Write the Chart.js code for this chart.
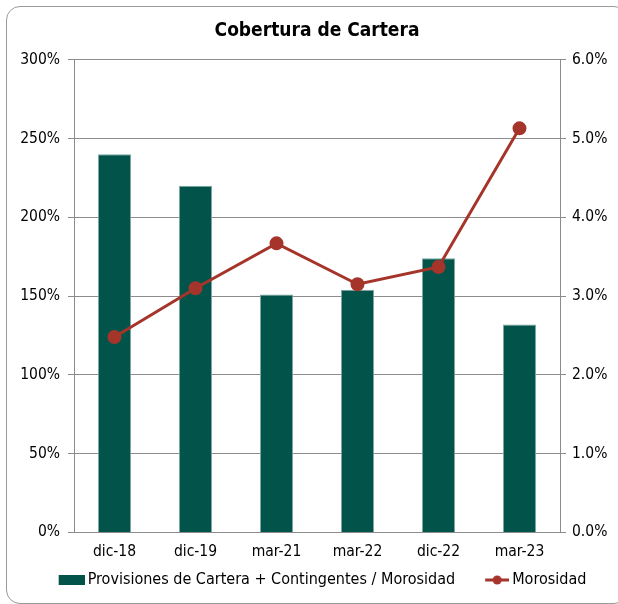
<!DOCTYPE html>
<html>
<head>
<meta charset="utf-8">
<script src="https://cdn.jsdelivr.net/npm/chart.js@4.4.0/dist/chart.umd.min.js"></script>
<style>
  body { margin: 0; background: #fff; }
  #frame {
    position: absolute; left: 6px; top: 6px; width: 620px; height: 596px;
    border: 1px solid #9a9a9a; border-radius: 14px;
  }
  #wrap { position: absolute; left: 0; top: 0; width: 618px; height: 604px; }
</style>
</head>
<body>
<div id="frame"></div>
<div id="wrap"><canvas id="coberturaChart"></canvas></div>
<script>
const labels = ["dic-18", "dic-19", "mar-21", "mar-22", "dic-22", "mar-23"];
const cobertura = [240, 220, 151, 154, 174, 132];
const morosidad = [2.48, 3.10, 3.67, 3.15, 3.37, 5.13];
const leftTicks = [0, 50, 100, 150, 200, 250, 300];
const rightTicks = [0, 1, 2, 3, 4, 5, 6];

const barColor = "#02544b";
const lineColor = "#a5352b";
const gridColor = "#8c8c8c";
const fontName = "'DejaVu Sans Condensed', 'DejaVu Sans', sans-serif";

// legend swatches: the image is centred in the legend box, so the visible
// part sits on the right half and the left half is left empty (gives spacing)
const swatchW = 58;

function barSwatch() {
    let c = document.createElement("canvas");
    c.width = swatchW; c.height = 10;
    let g = c.getContext("2d");
    g.fillStyle = barColor;
    g.fillRect(32, 0, 26, 10);
    return c;
}

function lineSwatch() {
    let c = document.createElement("canvas");
    c.width = swatchW; c.height = 12;
    let g = c.getContext("2d");
    g.strokeStyle = lineColor;
    g.lineWidth = 3;
    g.beginPath();
    g.moveTo(34, 6); g.lineTo(58, 6);
    g.stroke();
    g.fillStyle = lineColor;
    g.beginPath();
    g.arc(46, 6, 4.5, 0, Math.PI * 2);
    g.fill();
    return c;
}

const swatches = [barSwatch(), lineSwatch()];

let ctx = document.getElementById("coberturaChart").getContext("2d");

let chart = new Chart(ctx, {
    data: {
        labels: labels,
        datasets: [
            {
                type: "line",
                label: "Morosidad",
                data: morosidad,
                yAxisID: "y1",
                borderColor: lineColor,
                backgroundColor: lineColor,
                borderWidth: 3,
                pointRadius: 5.5,
                pointHoverRadius: 5.5,
                tension: 0,
                order: 1
            },
            {
                type: "bar",
                label: "Provisiones de Cartera + Contingentes / Morosidad",
                data: cobertura,
                yAxisID: "y",
                backgroundColor: barColor,
                borderColor: "#7fa9a4",
                borderWidth: 1,
                barPercentage: 0.41,
                categoryPercentage: 1,
                order: 2
            }
        ]
    },
    options: {
        responsive: true,
        maintainAspectRatio: false,
        animation: false,
        layout: { padding: { left: 0, right: 0, top: 10, bottom: 6 } },
        plugins: {
            title: {
                display: true,
                fullSize: false,
                text: "Cobertura de Cartera",
                color: "#000",
                font: { family: fontName, size: 19, weight: "bold" },
                padding: { top: 10, bottom: 17 }
            },
            legend: {
                position: "bottom",
                reverse: true,
                labels: {
                    color: "#000",
                    font: { family: fontName, size: 16 },
                    usePointStyle: true,
                    pointStyleWidth: 48,
                    padding: 1,
                    generateLabels: function (c) {
                        let items = Chart.defaults.plugins.legend.labels.generateLabels(c);
                        items.forEach(function (it) {
                            it.pointStyle = it.datasetIndex === 1 ? swatches[0] : swatches[1];
                        });
                        return items;
                    }
                }
            },
            tooltip: { enabled: false }
        },
        scales: {
            x: {
                grid: { display: false, drawTicks: false },
                border: { display: true, color: gridColor },
                ticks: { color: "#000", font: { family: fontName, size: 15.5 }, padding: 10 }
            },
            y: {
                position: "left",
                min: 0,
                max: 300,
                afterBuildTicks: function (s) { s.ticks = leftTicks.map(v => ({ value: v })); },
                afterFit: function (s) { s.width = 74; },
                grid: { color: gridColor, tickLength: 6 },
                border: { display: true, color: gridColor },
                ticks: {
                    color: "#000",
                    font: { family: fontName, size: 15.5 },
                    padding: 8,
                    callback: v => v + "%"
                }
            },
            y1: {
                position: "right",
                min: 0,
                max: 6,
                afterBuildTicks: function (s) { s.ticks = rightTicks.map(v => ({ value: v })); },
                afterFit: function (s) { s.width = 58; },
                grid: { drawOnChartArea: false, color: gridColor, tickLength: 6 },
                border: { display: true, color: gridColor },
                ticks: {
                    color: "#000",
                    font: { family: fontName, size: 15.5 },
                    padding: 6,
                    callback: v => v.toFixed(1) + "%"
                }
            }
        }
    }
});
</script>
</body>
</html>
